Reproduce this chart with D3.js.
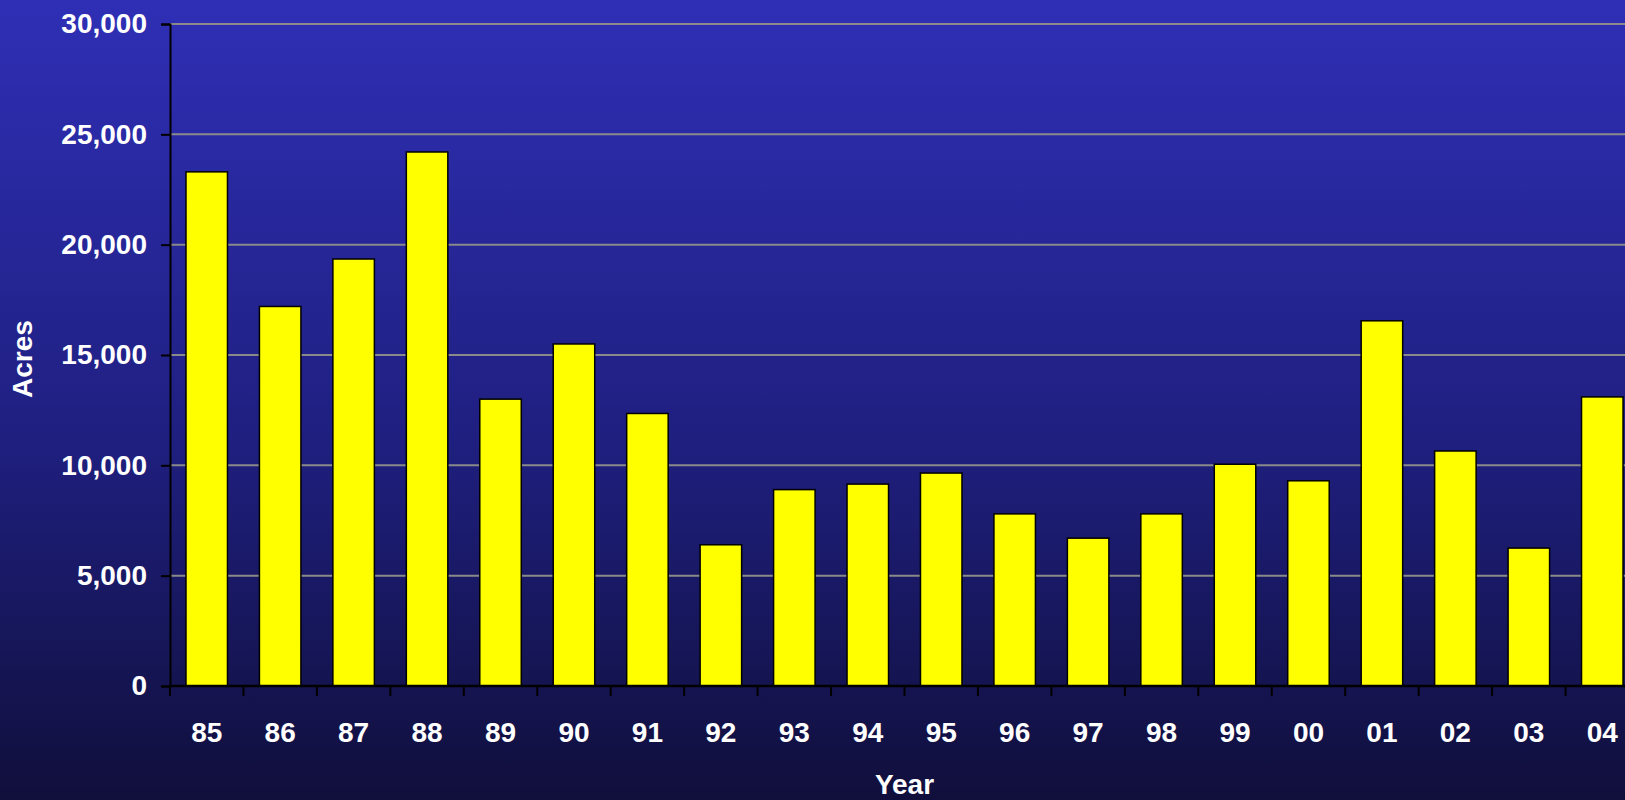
<!DOCTYPE html>
<html>
<head>
<meta charset="utf-8">
<script src="https://cdn.jsdelivr.net/npm/d3@7"></script>
<style>
  html, body { margin: 0; padding: 0; overflow: hidden; }
  svg { display: block; }
</style>
</head>
<body>
<div id="vizDiv"></div>
<script>
// chart data
var years = ["85","86","87","88","89","90","91","92","93","94","95","96","97","98","99","00","01","02","03","04"]
var acres = [23300,17200,19350,24200,13000,15500,12350,6400,8900,9150,9650,7800,6700,7800,10050,9300,16550,10650,6250,13100]
var yTicks = [0,5000,10000,15000,20000,25000,30000]

var width = 1625
var height = 800
var left = 170
var top_ = 24
var bottom = 686
var plotWidth = 1469   // runs past the right edge, as in the original
var fontSize = "28px"

var svg = d3.select("#vizDiv")
  .append("svg")
  .attr("width", width)
  .attr("height", height)

// background gradient
var grad = svg.append("defs").append("linearGradient")
  .attr("id", "bg")
  .attr("x1", 0).attr("y1", 0).attr("x2", 0).attr("y2", 1)
grad.append("stop").attr("offset", "0%").attr("stop-color", "#2f2fb6")
grad.append("stop").attr("offset", "55%").attr("stop-color", "#1f1f80")
grad.append("stop").attr("offset", "100%").attr("stop-color", "#100f3b")

svg.append("rect")
  .attr("width", width)
  .attr("height", height)
  .attr("fill", "url(#bg)")

var x = d3.scaleBand()
  .domain(years)
  .range([left, left + plotWidth])
  .paddingInner(0.435)
  .paddingOuter(0.2175)

var y = d3.scaleLinear()
  .domain([0, 30000])
  .range([bottom, top_])

// grid lines
svg.append("g")
  .selectAll("line")
  .data(yTicks.filter(function(d) { return d > 0 }))
  .enter().append("line")
  .attr("x1", left)
  .attr("x2", width)
  .attr("y1", function(d) { return y(d) })
  .attr("y2", function(d) { return y(d) })
  .attr("stroke", "#8a8a8a")
  .attr("stroke-width", 2)

// bars
svg.append("g")
  .selectAll("rect")
  .data(acres)
  .enter().append("rect")
  .attr("x", function(d, i) { return x(years[i]) })
  .attr("y", function(d) { return y(d) })
  .attr("width", x.bandwidth())
  .attr("height", function(d) { return bottom - y(d) })
  .attr("fill", "#ffff00")
  .attr("stroke", "#000")
  .attr("stroke-width", 1.5)

// y axis
var yAxis = svg.append("g")
  .attr("transform", "translate(" + left + ",0)")
  .call(d3.axisLeft(y).tickValues(yTicks).tickSize(9).tickPadding(14).tickFormat(d3.format(",")))
yAxis.select(".domain").attr("stroke", "#000").attr("stroke-width", 2)
yAxis.selectAll(".tick line").attr("stroke", "#000").attr("stroke-width", 2)
yAxis.selectAll("text")
  .attr("fill", "#fff")
  .style("font-family", "'Liberation Sans', Arial, sans-serif")
  .style("font-size", fontSize)
  .style("font-weight", "bold")

// x axis: ticks sit between the bars
var xAxis = svg.append("g")
  .attr("transform", "translate(0," + bottom + ")")
xAxis.append("line")
  .attr("x1", left).attr("x2", left + plotWidth)
  .attr("y1", 0).attr("y2", 0)
  .attr("stroke", "#000").attr("stroke-width", 2.5)
xAxis.selectAll(".tk")
  .data(years)
  .enter().append("line")
  .attr("class", "tk")
  .attr("x1", function(d) { return x(d) - x.step() * x.paddingInner() / 2 })
  .attr("x2", function(d) { return x(d) - x.step() * x.paddingInner() / 2 })
  .attr("y1", 0).attr("y2", 10)
  .attr("stroke", "#000").attr("stroke-width", 2)
xAxis.selectAll("text")
  .data(years)
  .enter().append("text")
  .attr("x", function(d) { return x(d) + x.bandwidth() / 2 })
  .attr("y", 56)
  .attr("text-anchor", "middle")
  .attr("fill", "#fff")
  .style("font-family", "'Liberation Sans', Arial, sans-serif")
  .style("font-size", fontSize)
  .style("font-weight", "bold")
  .text(function(d) { return d })

// axis titles
svg.append("text")
  .attr("x", left + plotWidth / 2)
  .attr("y", 794)
  .attr("text-anchor", "middle")
  .attr("fill", "#fff")
  .style("font-family", "'Liberation Sans', Arial, sans-serif")
  .style("font-size", fontSize)
  .style("font-weight", "bold")
  .text("Year")

svg.append("text")
  .attr("transform", "translate(32,359) rotate(-90)")
  .attr("text-anchor", "middle")
  .attr("fill", "#fff")
  .style("font-family", "'Liberation Sans', Arial, sans-serif")
  .style("font-size", fontSize)
  .style("font-weight", "bold")
  .text("Acres")
</script>
</body>
</html>
